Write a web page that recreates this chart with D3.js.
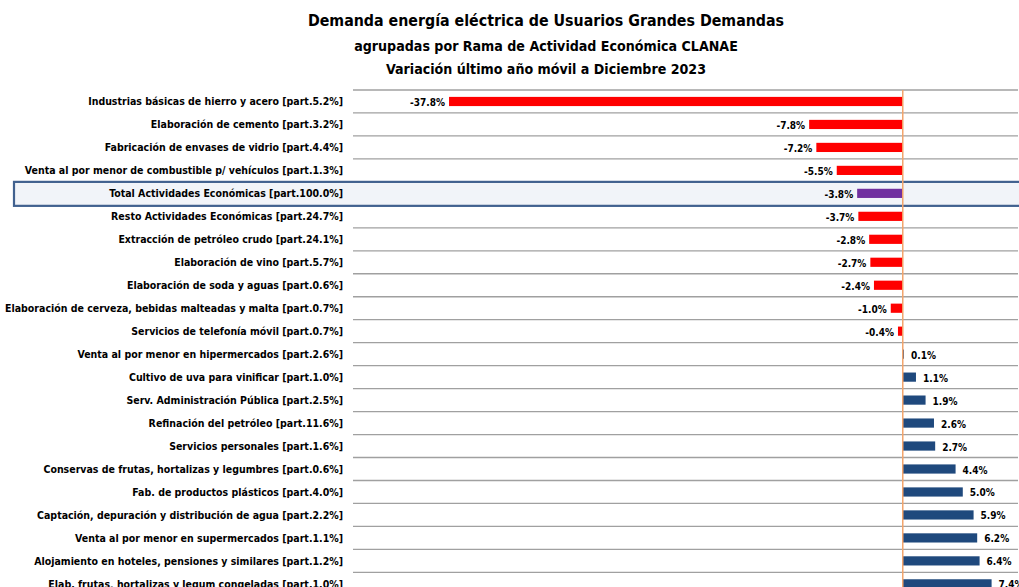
<!DOCTYPE html>
<html>
<head>
<meta charset="utf-8">
<script src="https://cdn.jsdelivr.net/npm/d3@7"></script>
<style>
  body { margin: 0; background: #fff; }
  svg text { font-family: "Liberation Sans Narrow", "DejaVu Sans Condensed", sans-serif; font-weight: bold; fill: #000; }
</style>
</head>
<body>
<div id="chart"></div>
<script>
const titleLines = [
    "Demanda energía eléctrica de Usuarios Grandes Demandas",
    "agrupadas por Rama de Actividad Económica CLANAE",
    "Variación último año móvil a Diciembre 2023"
];

const categories = [
    "Industrias básicas de hierro y acero [part.5.2%]",
    "Elaboración de cemento [part.3.2%]",
    "Fabricación de envases de vidrio [part.4.4%]",
    "Venta al por menor de combustible p/ vehículos [part.1.3%]",
    "Total Actividades Económicas [part.100.0%]",
    "Resto Actividades Económicas [part.24.7%]",
    "Extracción de petróleo crudo [part.24.1%]",
    "Elaboración de vino [part.5.7%]",
    "Elaboración de soda y aguas [part.0.6%]",
    "Elaboración de cerveza, bebidas malteadas y malta [part.0.7%]",
    "Servicios de telefonía móvil [part.0.7%]",
    "Venta al por menor en hipermercados [part.2.6%]",
    "Cultivo de uva para vinificar [part.1.0%]",
    "Serv. Administración Pública [part.2.5%]",
    "Refinación del petróleo [part.11.6%]",
    "Servicios personales [part.1.6%]",
    "Conservas de frutas, hortalizas y legumbres [part.0.6%]",
    "Fab. de productos plásticos  [part.4.0%]",
    "Captación, depuración y distribución de agua [part.2.2%]",
    "Venta al por menor en supermercados [part.1.1%]",
    "Alojamiento en hoteles, pensiones y similares [part.1.2%]",
    "Elab. frutas, hortalizas y legum congeladas [part.1.0%]"
];

const variation = [-37.8, -7.8, -7.2, -5.5, -3.8, -3.7, -2.8, -2.7, -2.4, -1.0, -0.4,
    0.1, 1.1, 1.9, 2.6, 2.7, 4.4, 5.0, 5.9, 6.2, 6.4, 7.4];

const totalLabel = "Total Actividades Económicas [part.100.0%]";

const svgWidth = 1019;
const svgHeight = 587;

const plot = { left: 353, right: 1018, top: 90, rowH: 22.97 };

const data = categories.map((c, i) => ({ cat: c, value: variation[i] }));

const x = d3.scaleLinear()
    .domain([-45.8, 9.6])
    .range([plot.left, plot.right]);

const y = d3.scaleBand()
    .domain(categories)
    .range([plot.top, plot.top + categories.length * plot.rowH])
    .paddingInner(0.6)
    .paddingOuter(0.3);

const svg = d3.select("#chart").append("svg")
    .attr("width", svgWidth)
    .attr("height", svgHeight);

// titles
svg.selectAll(".title")
    .data(titleLines)
    .enter()
    .append("text")
    .attr("x", 546)
    .attr("y", (d, i) => [26, 51, 74][i])
    .attr("text-anchor", "middle")
    .attr("font-size", (d, i) => i === 0 ? 15.8 : 14.1)
    .text(d => d);

// highlight box for total row
const totalY = y(totalLabel) - (y.step() - y.bandwidth()) / 2;
svg.append("rect")
    .attr("x", 14)
    .attr("y", totalY)
    .attr("width", 1030)
    .attr("height", y.step() + 1)
    .attr("fill", "#f1f4f9")
    .attr("stroke", "#41618f")
    .attr("stroke-width", 2.2);

// horizontal gridlines between rows
const bounds = d3.range(categories.length + 1).map(i => plot.top + i * y.step());
svg.selectAll(".grid")
    .data(bounds)
    .enter()
    .append("line")
    .attr("x1", plot.left)
    .attr("x2", plot.right)
    .attr("y1", d => d)
    .attr("y2", d => d)
    .attr("stroke", "#a0a0a0")
    .attr("stroke-width", 1.3)
    .attr("display", (d, i) => (i === 4 || i === 5) ? "none" : null);

// bars
svg.selectAll(".bar")
    .data(data)
    .enter()
    .append("rect")
    .attr("x", d => x(Math.min(0, d.value)))
    .attr("y", d => y(d.cat))
    .attr("width", d => Math.abs(x(d.value) - x(0)))
    .attr("height", y.bandwidth())
    .attr("fill", d => d.cat === totalLabel ? "#7030a0" : (d.value < 0 ? "#ff0000" : "#1f497d"));

// zero line
svg.append("line")
    .attr("x1", x(0))
    .attr("x2", x(0))
    .attr("y1", plot.top)
    .attr("y2", svgHeight)
    .attr("stroke", "#f2a46c")
    .attr("stroke-width", 1.5);

// category labels
svg.selectAll(".cat")
    .data(data)
    .enter()
    .append("text")
    .attr("x", 343)
    .attr("y", d => y(d.cat) + y.bandwidth() / 2)
    .attr("dy", "0.35em")
    .attr("text-anchor", "end")
    .attr("font-size", 10.5)
    .text(d => d.cat);

// value labels
svg.selectAll(".val")
    .data(data)
    .enter()
    .append("text")
    .attr("x", d => d.value < 0 ? x(d.value) - 4 : x(d.value) + 7)
    .attr("y", d => y(d.cat) + y.bandwidth() / 2 + 1)
    .attr("dy", "0.35em")
    .attr("text-anchor", d => d.value < 0 ? "end" : "start")
    .attr("font-size", 10)
    .text(d => d.value.toFixed(1) + "%");
</script>
</body>
</html>
